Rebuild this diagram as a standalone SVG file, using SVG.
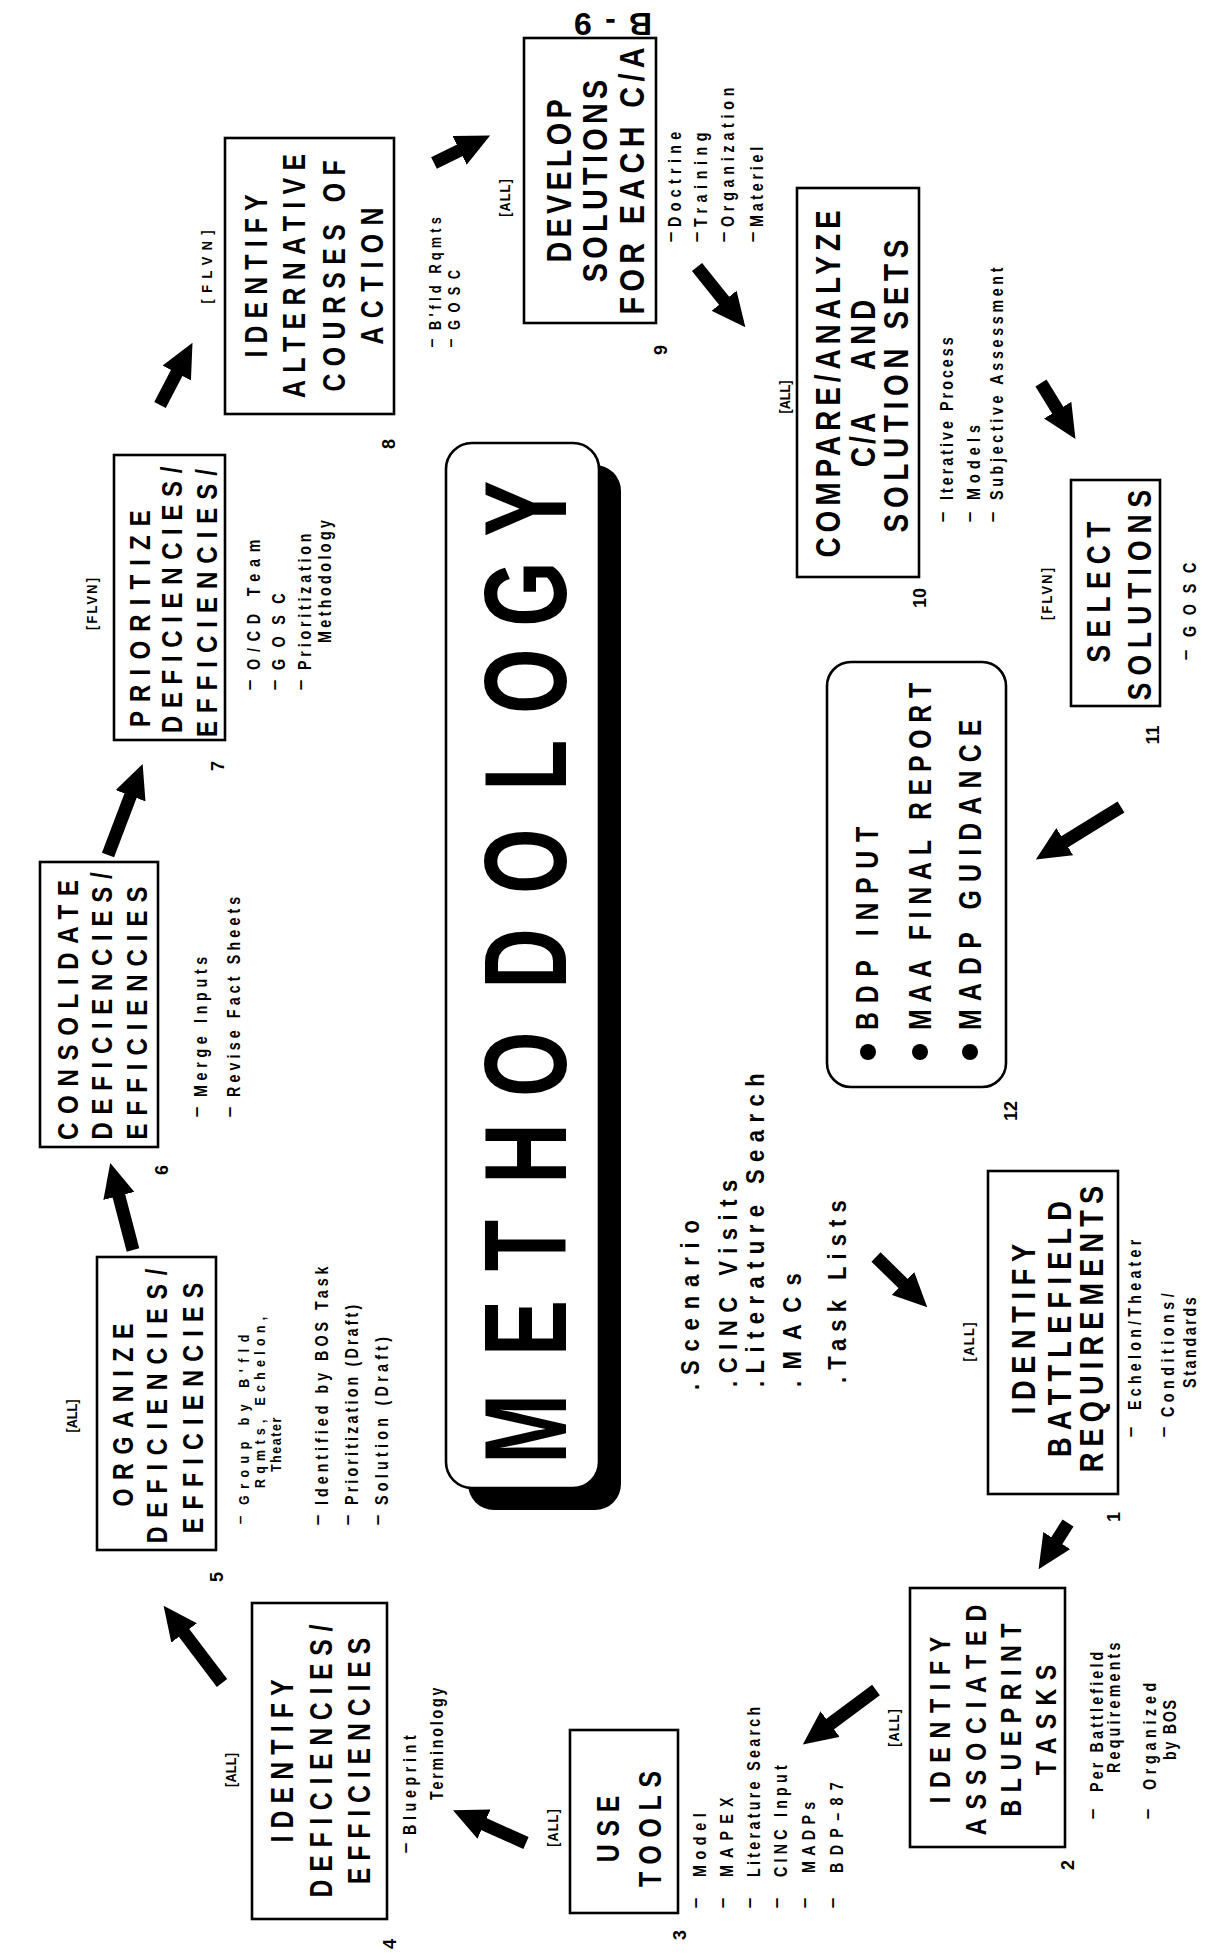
<svg xmlns="http://www.w3.org/2000/svg" width="1212" height="1953" viewBox="0 0 1212 1953">
<defs>
<style>
text{font-family:"Liberation Sans",Arial,Helvetica,sans-serif;font-weight:700;fill:#000}
.box{fill:#fff;stroke:#000;stroke-width:2.6}
.m{text-anchor:middle}
.n{font-size:19px}
.ns{font-size:16px}
.nt{font-size:15.5px}
.lb{font-size:15px;text-anchor:middle}
.num{font-size:18px;text-anchor:middle}
.bl{font-size:26px}
.arrow{stroke:#000;stroke-width:13;fill:none;marker-end:url(#head)}
</style>
<marker id="head" markerUnits="userSpaceOnUse" markerWidth="34" markerHeight="32" viewBox="0 0 34 32" refX="1" refY="16" orient="auto">
<path d="M0,0 L34,16 L0,32 z" fill="#000"/>
</marker>
</defs>
<rect width="1212" height="1953" fill="#fff"/>

<!-- landscape sheet, turned a quarter turn so it reads bottom to top -->
<g id="sheet" transform="translate(0,1953) rotate(-90)">

<g id="methodology">
<rect x="443" y="468" width="1045" height="153" rx="26" fill="#000"/>
<rect class="box" x="465" y="446" width="1045" height="153" rx="26" stroke-width="2"/>
<text font-size="117" transform="translate(0 566) scale(0.72 1)" x="679 829 947 1068 1189 1339 1471 1614 1721 1842 1967" y="0">METHODOLOGY</text>
</g>

<g id="inputs">
<text class="bl" transform="translate(563 699) scale(0.85 1)" textLength="200" lengthAdjust="spacing">.Scenario</text>
<text class="bl" transform="translate(566 737) scale(0.85 1)" textLength="244" lengthAdjust="spacing">.CINC Visits</text>
<text class="bl" transform="translate(566 764) scale(0.85 1)" textLength="369" lengthAdjust="spacing">.Literature Search</text>
<text class="bl" transform="translate(566 801) scale(0.85 1)" textLength="134" lengthAdjust="spacing">.MACs</text>
<text class="bl" transform="translate(570 846) scale(0.85 1)" textLength="215" lengthAdjust="spacing">.Task Lists</text>
</g>

<g id="step1-battlefield-requirements">
<rect class="box" x="459" y="988" width="323" height="130"/>
<text class="m" font-size="34" transform="translate(624 1035) scale(0.8 1)" textLength="213" lengthAdjust="spacing">IDENTIFY</text>
<text class="m" font-size="34" transform="translate(624 1071) scale(0.8 1)" textLength="320" lengthAdjust="spacing">BATTLEFIELD</text>
<text class="m" font-size="34" transform="translate(624 1103) scale(0.8 1)" textLength="358" lengthAdjust="spacing">REQUIREMENTS</text>
<text class="lb" transform="translate(611 974) scale(0.85 1)" textLength="46" lengthAdjust="spacing">[ALL]</text>
<text class="n m" x="521" y="1136">–</text>
<text class="n" transform="translate(543 1141) scale(0.75 1)" textLength="227" lengthAdjust="spacing">Echelon/Theater</text>
<text class="n m" x="521" y="1169">–</text>
<text class="n" transform="translate(536 1174) scale(0.75 1)" textLength="165" lengthAdjust="spacing">Conditions/</text>
<text class="n" transform="translate(565 1196) scale(0.75 1)" textLength="121" lengthAdjust="spacing">Standards</text>
<text class="num" x="436" y="1120">1</text>
</g>

<g id="step2-blueprint-tasks">
<rect class="box" x="106" y="910" width="259" height="155"/>
<text class="m" font-size="29" transform="translate(233 950) scale(0.8 1)" textLength="208" lengthAdjust="spacing">IDENTIFY</text>
<text class="m" font-size="29" transform="translate(233 986) scale(0.8 1)" textLength="288" lengthAdjust="spacing">ASSOCIATED</text>
<text class="m" font-size="29" transform="translate(233 1021) scale(0.8 1)" textLength="241" lengthAdjust="spacing">BLUEPRINT</text>
<text class="m" font-size="29" transform="translate(233 1056) scale(0.8 1)" textLength="138" lengthAdjust="spacing">TASKS</text>
<text class="lb" transform="translate(225 899) scale(0.85 1)" textLength="44" lengthAdjust="spacing">[ALL]</text>
<text class="n m" x="139" y="1098">–</text>
<text class="n" transform="translate(161 1103) scale(0.75 1)" textLength="187" lengthAdjust="spacing">Per Battlefield</text>
<text class="n" transform="translate(180 1120) scale(0.75 1)" textLength="174" lengthAdjust="spacing">Requirements</text>
<text class="n m" x="139" y="1153">–</text>
<text class="n" transform="translate(163 1156) scale(0.75 1)" textLength="143" lengthAdjust="spacing">Organized</text>
<text class="n" transform="translate(193 1176) scale(0.75 1)" textLength="80" lengthAdjust="spacing">by BOS</text>
<text class="num" x="88" y="1074">2</text>
</g>

<g id="step3-use-tools">
<rect class="box" x="40" y="570" width="183" height="108"/>
<text class="m" font-size="31" transform="translate(124 619) scale(0.8 1)" textLength="83" lengthAdjust="spacing">USE</text>
<text class="m" font-size="31" transform="translate(124 661) scale(0.8 1)" textLength="145" lengthAdjust="spacing">TOOLS</text>
<text class="lb" transform="translate(125 558) scale(0.85 1)" textLength="44" lengthAdjust="spacing">[ALL]</text>
<text class="n m" x="50" y="701">–</text>
<text class="n" transform="translate(76 706) scale(0.75 1)" textLength="85" lengthAdjust="spacing">Model</text>
<text class="n m" x="50" y="728">–</text>
<text class="n" transform="translate(76 733) scale(0.75 1)" textLength="106" lengthAdjust="spacing">MAPEX</text>
<text class="n m" x="50" y="755">–</text>
<text class="n" transform="translate(76 760) scale(0.75 1)" textLength="227" lengthAdjust="spacing">Literature Search</text>
<text class="n m" x="50" y="782">–</text>
<text class="n" transform="translate(76 787) scale(0.75 1)" textLength="149" lengthAdjust="spacing">CINC Input</text>
<text class="n m" x="50" y="810">–</text>
<text class="n" transform="translate(80 815) scale(0.75 1)" textLength="95" lengthAdjust="spacing">MADPs</text>
<text class="n m" x="50" y="838">–</text>
<text class="n" transform="translate(80 843) scale(0.75 1)" textLength="121" lengthAdjust="spacing">BDP–87</text>
<text class="num" x="18" y="686">3</text>
</g>

<g id="step4-identify-deficiencies">
<rect class="box" x="34" y="252" width="316" height="135"/>
<text class="m" font-size="31" transform="translate(192 293) scale(0.8 1)" textLength="204" lengthAdjust="spacing">IDENTIFY</text>
<text class="m" font-size="31" transform="translate(192 332) scale(0.8 1)" textLength="341" lengthAdjust="spacing">DEFICIENCIES/</text>
<text class="m" font-size="31" transform="translate(192 370) scale(0.8 1)" textLength="308" lengthAdjust="spacing">EFFICIENCIES</text>
<text class="lb" transform="translate(183 236) scale(0.85 1)" textLength="40" lengthAdjust="spacing">[ALL]</text>
<text class="n m" x="105" y="411">–</text>
<text class="n" transform="translate(118 416) scale(0.75 1)" textLength="133" lengthAdjust="spacing">Blueprint</text>
<text class="n" transform="translate(153 443) scale(0.75 1)" textLength="150" lengthAdjust="spacing">Terminology</text>
<text class="num" x="9" y="396">4</text>
</g>

<g id="step5-organize">
<rect class="box" x="403" y="97" width="293" height="119"/>
<text class="m" font-size="29" transform="translate(538 133) scale(0.8 1)" textLength="229" lengthAdjust="spacing">ORGANIZE</text>
<text class="m" font-size="29" transform="translate(547 167) scale(0.8 1)" textLength="343" lengthAdjust="spacing">DEFICIENCIES/</text>
<text class="m" font-size="29" transform="translate(545 203) scale(0.8 1)" textLength="313" lengthAdjust="spacing">EFFICIENCIES</text>
<text class="lb" transform="translate(537 77) scale(0.85 1)" textLength="39" lengthAdjust="spacing">[ALL]</text>
<text class="nt m" x="433" y="245">–</text>
<text class="nt" transform="translate(448 249) scale(0.8 1)" textLength="213" lengthAdjust="spacing">Group by B'fld</text>
<text class="nt" transform="translate(465 265) scale(0.8 1)" textLength="214" lengthAdjust="spacing">Rqmts, Echelon,</text>
<text class="nt" transform="translate(481 281) scale(0.8 1)" textLength="68" lengthAdjust="spacing">Theater</text>
<text class="n m" x="433" y="323">–</text>
<text class="n" transform="translate(448 328) scale(0.75 1)" textLength="318" lengthAdjust="spacing">Identified by BOS Task</text>
<text class="n m" x="433" y="353">–</text>
<text class="n" transform="translate(448 358) scale(0.75 1)" textLength="267" lengthAdjust="spacing">Prioritization (Draft)</text>
<text class="n m" x="433" y="383">–</text>
<text class="n" transform="translate(448 388) scale(0.75 1)" textLength="224" lengthAdjust="spacing">Solution (Draft)</text>
<text class="num" x="376" y="223">5</text>
</g>

<g id="step6-consolidate">
<rect class="box" x="806" y="40" width="285" height="118"/>
<text class="m" font-size="30" transform="translate(943 78) scale(0.8 1)" textLength="325" lengthAdjust="spacing">CONSOLIDATE</text>
<text class="m" font-size="30" transform="translate(947 112) scale(0.8 1)" textLength="334" lengthAdjust="spacing">DEFICIENCIES/</text>
<text class="m" font-size="30" transform="translate(940 147) scale(0.8 1)" textLength="316" lengthAdjust="spacing">EFFICIENCIES</text>
<text class="n m" x="841" y="202">–</text>
<text class="n" transform="translate(856 207) scale(0.75 1)" textLength="187" lengthAdjust="spacing">Merge Inputs</text>
<text class="n m" x="841" y="235">–</text>
<text class="n" transform="translate(856 240) scale(0.75 1)" textLength="267" lengthAdjust="spacing">Revise Fact Sheets</text>
<text class="num" x="783" y="168">6</text>
</g>

<g id="step7-prioritize">
<rect class="box" x="1213" y="114" width="285" height="111"/>
<text font-size="30" transform="translate(1226 150) scale(0.8 1)" textLength="271" lengthAdjust="spacing">PRIORITIZE</text>
<text font-size="30" transform="translate(1220 182) scale(0.8 1)" textLength="333" lengthAdjust="spacing">DEFICIENCIES/</text>
<text font-size="30" transform="translate(1216 217) scale(0.8 1)" textLength="335" lengthAdjust="spacing">EFFICIENCIES/</text>
<text class="lb" transform="translate(1349 97) scale(0.85 1)" textLength="61" lengthAdjust="spacing">[FLVN]</text>
<text class="n m" x="1268" y="255">–</text>
<text class="n" transform="translate(1283 260) scale(0.75 1)" textLength="174" lengthAdjust="spacing">O/CD Team</text>
<text class="n m" x="1268" y="280">–</text>
<text class="n" transform="translate(1283 285) scale(0.75 1)" textLength="102" lengthAdjust="spacing">GOSC</text>
<text class="n m" x="1268" y="306">–</text>
<text class="n" transform="translate(1283 311) scale(0.75 1)" textLength="182" lengthAdjust="spacing">Prioritization</text>
<text class="n" transform="translate(1310 331) scale(0.75 1)" textLength="164" lengthAdjust="spacing">Methodology</text>
<text class="num" x="1187" y="224">7</text>
</g>

<g id="step8-alternatives">
<rect class="box" x="1539" y="225" width="276" height="169"/>
<text class="m" font-size="31" transform="translate(1677 267) scale(0.8 1)" textLength="204" lengthAdjust="spacing">IDENTIFY</text>
<text class="m" font-size="31" transform="translate(1677 305) scale(0.8 1)" textLength="305" lengthAdjust="spacing">ALTERNATIVE</text>
<text class="m" font-size="31" transform="translate(1677 345) scale(0.8 1)" textLength="289" lengthAdjust="spacing">COURSES OF</text>
<text class="m" font-size="31" transform="translate(1677 383) scale(0.8 1)" textLength="171" lengthAdjust="spacing">ACTION</text>
<text class="lb" transform="translate(1686 212) scale(0.85 1)" textLength="86" lengthAdjust="spacing">[FLVN]</text>
<text class="ns m" x="1610" y="437">–</text>
<text class="ns" transform="translate(1623 441) scale(0.8 1)" textLength="141" lengthAdjust="spacing">B'fld Rqmts</text>
<text class="ns m" x="1610" y="456">–</text>
<text class="ns" transform="translate(1623 460) scale(0.8 1)" textLength="75" lengthAdjust="spacing">GOSC</text>
<text class="num" x="1509" y="395">8</text>
</g>

<g id="step9-develop-solutions">
<rect class="box" x="1630" y="524" width="285" height="132"/>
<text class="m" font-size="36" transform="translate(1772 571) scale(0.8 1)" textLength="204" lengthAdjust="spacing">DEVELOP</text>
<text class="m" font-size="36" transform="translate(1772 607) scale(0.8 1)" textLength="253" lengthAdjust="spacing">SOLUTIONS</text>
<text class="m" font-size="36" transform="translate(1772 644) scale(0.8 1)" textLength="334" lengthAdjust="spacing">FOR EACH C/A</text>
<text class="lb" transform="translate(1755 510) scale(0.85 1)" textLength="44" lengthAdjust="spacing">[ALL]</text>
<text class="n m" x="1716" y="676">–</text>
<text class="n" transform="translate(1726 681) scale(0.75 1)" textLength="127" lengthAdjust="spacing">Doctrine</text>
<text class="n m" x="1716" y="702">–</text>
<text class="n" transform="translate(1726 707) scale(0.75 1)" textLength="126" lengthAdjust="spacing">Training</text>
<text class="n m" x="1716" y="729">–</text>
<text class="n" transform="translate(1726 734) scale(0.75 1)" textLength="186" lengthAdjust="spacing">Organization</text>
<text class="n m" x="1716" y="758">–</text>
<text class="n" transform="translate(1726 763) scale(0.75 1)" textLength="107" lengthAdjust="spacing">Materiel</text>
<text class="num" x="1603" y="667">9</text>
</g>

<g id="step10-compare">
<rect class="box" x="1376" y="797" width="389" height="122"/>
<text class="m" font-size="35" transform="translate(1569 840) scale(0.8 1)" textLength="434" lengthAdjust="spacing">COMPARE/ANALYZE</text>
<text class="m" font-size="35" transform="translate(1513 875) scale(0.8 1)" textLength="68" lengthAdjust="spacing">C/A</text>
<text class="m" font-size="35" transform="translate(1618 875) scale(0.8 1)" textLength="88" lengthAdjust="spacing">AND</text>
<text class="m" font-size="35" transform="translate(1567 908) scale(0.8 1)" textLength="366" lengthAdjust="spacing">SOLUTION SETS</text>
<text class="lb" transform="translate(1556 790) scale(0.85 1)" textLength="39" lengthAdjust="spacing">[ALL]</text>
<text class="n m" x="1436" y="948">–</text>
<text class="n" transform="translate(1453 953) scale(0.75 1)" textLength="217" lengthAdjust="spacing">Iterative Process</text>
<text class="n m" x="1436" y="975">–</text>
<text class="n" transform="translate(1453 980) scale(0.75 1)" textLength="100" lengthAdjust="spacing">Models</text>
<text class="n m" x="1436" y="998">–</text>
<text class="n" transform="translate(1453 1003) scale(0.75 1)" textLength="310" lengthAdjust="spacing">Subjective Assessment</text>
<text class="num" x="1355" y="926">10</text>
</g>

<g id="step11-select">
<rect class="box" x="1247" y="1071" width="226" height="89"/>
<text class="m" font-size="33" transform="translate(1361 1110) scale(0.8 1)" textLength="176" lengthAdjust="spacing">SELECT</text>
<text class="m" font-size="33" transform="translate(1358 1151) scale(0.8 1)" textLength="263" lengthAdjust="spacing">SOLUTIONS</text>
<text class="lb" transform="translate(1359 1052) scale(0.85 1)" textLength="61" lengthAdjust="spacing">[FLVN]</text>
<text class="n m" x="1298" y="1191">–</text>
<text class="n" transform="translate(1316 1196) scale(0.75 1)" textLength="99" lengthAdjust="spacing">GOSC</text>
<text class="num" x="1218" y="1159">11</text>
</g>

<g id="step12-products">
<rect class="box" x="866" y="827" width="425" height="179" rx="24"/>
<circle cx="901" cy="868" r="8"/>
<circle cx="901" cy="920" r="8"/>
<circle cx="901" cy="970" r="8"/>
<text font-size="31" transform="translate(923 878) scale(0.8 1)" textLength="254" lengthAdjust="spacing">BDP INPUT</text>
<text font-size="31" transform="translate(923 931) scale(0.8 1)" textLength="434" lengthAdjust="spacing">MAA FINAL REPORT</text>
<text font-size="31" transform="translate(923 981) scale(0.8 1)" textLength="388" lengthAdjust="spacing">MADP GUIDANCE</text>
<text class="num" x="842" y="1017">12</text>
</g>

</g>

<g id="connectors">
<line class="arrow" x1="222" y1="1683" x2="183.5" y2="1632.1"/>
<line class="arrow" x1="133" y1="1250" x2="118.6" y2="1194.9"/>
<line class="arrow" x1="108" y1="855" x2="130.9" y2="794.8"/>
<line class="arrow" x1="160" y1="405" x2="177.2" y2="372.1"/>
<line class="arrow" x1="434" y1="163" x2="460.5" y2="150"/>
<line class="arrow" x1="697" y1="267" x2="724.7" y2="301.5"/>
<line class="arrow" x1="1041" y1="383" x2="1058.2" y2="411"/>
<line class="arrow" x1="1121" y1="807" x2="1063.9" y2="842.2"/>
<line class="arrow" x1="876" y1="1257" x2="903.7" y2="1284.2"/>
<line class="arrow" x1="1068" y1="1523" x2="1056.3" y2="1541.4"/>
<line class="arrow" x1="876" y1="1690" x2="829.3" y2="1724.7"/>
<line class="arrow" x1="526" y1="1843" x2="483.1" y2="1823.8"/>
</g>

<text id="page-number" font-size="32" transform="translate(613 13) rotate(180)" text-anchor="middle" textLength="78" lengthAdjust="spacing">B - 9</text>
</svg>
